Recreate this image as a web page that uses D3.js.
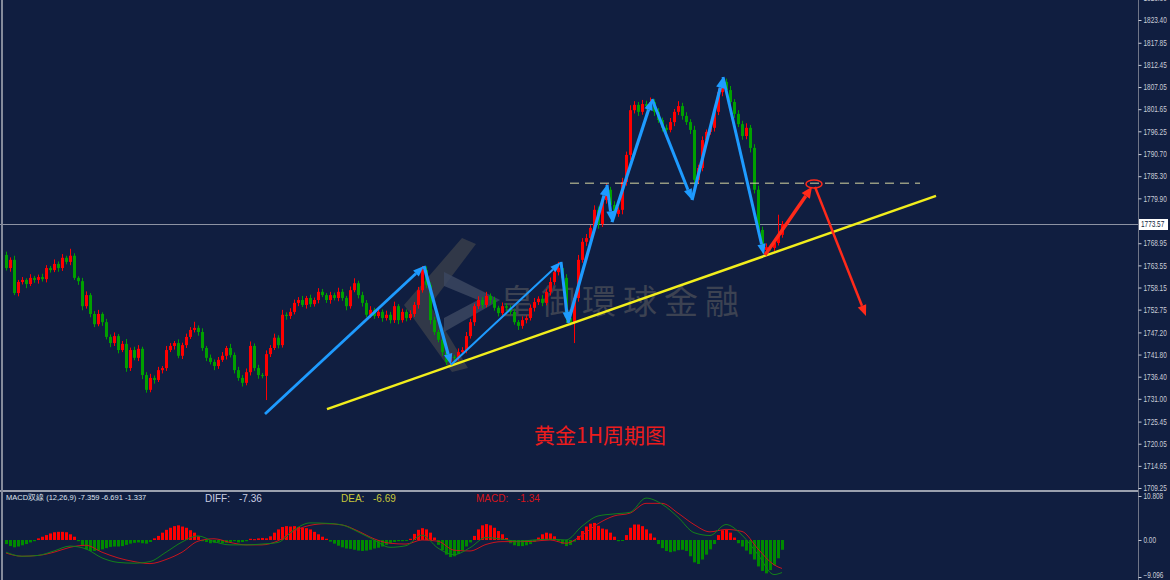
<!DOCTYPE html>
<html>
<head>
<meta charset="utf-8">
<script src="https://cdn.jsdelivr.net/npm/d3@7"></script>
<style>
  html, body { margin: 0; padding: 0; background: #101e40; overflow: hidden; }
</style>
</head>
<body>
<div id="chart"></div>
<script>
// ---- data ----
const firstOpen = 1766.1;
const closes = [
  1762.9,1764.9,1756.8,1759.5,1760.0,1759.0,1760.5,1760.0,1760.7,1760.2,
  1762.9,1762.4,1763.9,1762.9,1765.4,1764.4,1765.9,1760.5,1759.7,1753.6,
  1756.3,1751.7,1749.2,1751.7,1749.7,1746.1,1744.6,1746.3,1742.9,1744.4,
  1738.5,1742.9,1741.0,1743.2,1736.8,1733.2,1736.1,1735.6,1738.0,1738.5,
  1742.9,1743.9,1744.6,1741.5,1744.1,1746.1,1747.8,1748.3,1747.3,1743.4,
  1741.0,1740.0,1739.0,1740.5,1741.5,1743.4,1741.7,1738.0,1736.1,1734.9,
  1737.5,1743.9,1738.5,1736.8,1736.6,1741.9,1743.4,1745.9,1744.1,1751.5,
  1751.2,1752.2,1754.4,1755.1,1753.9,1755.6,1754.1,1755.1,1757.1,1756.3,
  1755.1,1756.3,1755.6,1757.1,1755.6,1753.6,1757.5,1759.2,1756.3,1754.4,
  1751.5,1752.7,1751.2,1752.2,1750.7,1751.5,1750.2,1753.6,1750.2,1752.2,
  1750.7,1751.7,1753.9,1757.5,1762.4,1758.8,1750.2,1747.3,1745.4,1742.4,
  1740.0,1741.2,1741.0,1742.4,1742.9,1746.3,1749.7,1753.6,1755.1,1753.9,
  1756.1,1755.1,1753.2,1751.9,1753.6,1753.2,1752.2,1749.7,1748.8,1750.2,
  1750.7,1753.2,1754.6,1755.4,1754.4,1757.1,1759.5,1761.9,1762.9,1760.5,
  1750.7,1749.7,1755.6,1764.9,1769.3,1770.2,1772.7,1777.1,1773.6,1779.5,
  1782.0,1778.3,1776.1,1777.1,1783.9,1790.5,1801.4,1802.7,1801.0,1802.9,
  1802.4,1803.4,1801.0,1799.0,1797.1,1796.6,1798.5,1801.0,1802.4,1800.0,
  1798.5,1796.6,1784.4,1787.3,1794.1,1796.1,1797.1,1801.0,1805.8,1808.3,
  1806.3,1803.4,1800.5,1798.0,1795.1,1797.1,1792.2,1782.0,1772.2,1767.3,
  1768.0,1767.8,1769.0,1771.0,1773.57
];
const upWick = [
  0.8,0.6,1.0,0.5,0.7,0.4,0.9,0.5,0.6,0.8, 0.7,0.5,1.1,0.6,0.9,0.5,1.7,0.6,0.4,0.8,
  0.9,0.5,0.7,1.0,0.4,0.8,0.6,0.9,0.5,0.7, 1.2,0.6,0.8,0.9,0.5,0.7,1.0,0.6,0.8,0.5,
  1.0,0.7,0.5,0.9,0.6,0.8,0.7,1.5,0.6,0.9, 0.5,0.8,0.6,0.7,0.9,0.5,1.0,0.6,0.8,0.7,
  0.9,1.1,0.6,0.8,0.5,0.9,0.7,1.0,0.6,1.2, 0.6,0.9,0.8,0.7,1.0,0.5,0.8,0.6,0.9,0.7,
  0.5,0.8,0.6,1.0,0.7,0.5,0.9,1.2,0.6,0.8, 0.7,0.9,0.5,0.8,0.6,1.0,0.7,1.1,0.5,0.8,
  0.6,0.9,0.7,0.8,1.0,0.9,0.6,0.8,0.5,0.7, 0.6,0.8,0.5,0.9,0.7,1.0,0.8,0.6,0.9,0.7,
  1.0,0.6,0.8,0.5,0.9,0.7,0.6,0.8,0.5,0.9, 0.7,0.8,1.0,0.6,0.9,0.7,1.1,0.8,1.5,0.6,
  0.9,0.7,0.8,1.2,0.9,1.0,0.7,1.1,0.8,0.9, 1.5,0.7,0.9,0.6,1.0,0.8,1.2,0.9,0.7,1.0,
  0.8,1.1,0.7,0.9,0.6,0.8,1.0,0.7,1.2,0.8, 0.9,0.7,1.0,0.8,0.9,0.6,0.8,1.0,0.9,1.2,
  0.8,1.0,0.7,0.9,0.8,1.1,0.7,0.9,1.0,0.8, 0.9,0.7,1.0,4.9,0.8
];
const downWick = [
  0.6,0.9,0.5,0.8,0.6,1.0,0.5,0.7,0.9,0.6, 0.8,0.6,0.5,0.9,0.7,0.6,0.8,0.5,0.9,1.0,
  0.6,0.8,0.7,0.5,0.9,0.6,1.0,0.7,0.8,0.5, 0.9,0.7,0.6,0.8,1.0,0.7,0.6,0.9,0.5,0.8,
  0.7,0.5,0.9,0.6,0.8,0.7,0.5,0.6,0.9,0.7, 0.8,0.6,1.0,0.7,0.5,0.9,0.6,0.8,0.7,0.9,
  0.6,0.8,0.7,0.9,0.6,5.9,0.7,0.5,0.8,0.6, 0.9,0.7,0.6,0.8,0.5,0.9,0.7,0.6,0.8,0.5,
  0.7,0.9,0.6,0.8,0.7,1.0,0.6,0.5,0.8,0.9, 0.6,0.8,0.7,0.5,0.9,0.6,0.8,0.7,1.0,0.6,
  0.8,0.5,0.7,0.9,0.6,0.8,1.0,0.7,0.6,0.9, 0.8,0.6,0.9,0.7,0.5,0.8,0.6,0.9,0.7,0.8,
  0.6,0.9,0.7,0.8,0.5,0.9,0.7,0.6,1.0,0.7, 0.8,0.6,0.9,0.7,0.8,0.6,0.9,0.7,0.8,1.0,
  1.2,0.8,5.1,0.9,0.7,1.0,0.8,0.9,1.1,0.7, 0.9,1.0,0.8,0.7,1.1,0.9,1.2,0.8,1.0,0.7,
  0.9,0.8,1.0,0.7,0.9,0.8,0.6,1.0,0.8,0.9, 0.7,1.0,3.7,0.9,0.8,1.0,0.7,0.9,0.8,1.0,
  0.9,0.8,1.0,0.7,0.9,0.8,1.1,0.9,1.2,0.8, 0.9,0.7,0.8,0.6,0.7
];

// MACD histogram, one bar per candle
const macdHist = [
  -1.0,-1.5,-1.8,-1.6,-1.3,-1.0,-0.6,-0.3,
  0.4,0.8,1.2,1.6,1.9,2.0,2.0,1.9,1.4,0.8,-0.3,
  -1.5,-2.3,-2.7,-2.7,-2.6,-2.3,-2.0,-1.7,-1.6,-1.6,-1.5,-1.2,-0.9,-0.7,
  -0.6,-0.8,-0.9,-0.5,
  0.4,1.0,1.8,2.5,3.0,3.4,3.6,3.3,3.0,2.4,1.8,0.9,-0.3,
  -0.5,-0.8,-0.7,-0.6,-0.8,-0.7,-0.5,-0.3,-0.6,-0.5,-0.3,
  0.3,0.2,0.4,0.5,0.4,
  0.9,1.8,2.6,3.2,3.4,3.3,3.4,3.2,3.0,2.9,2.6,
  2.0,1.4,0.8,0.3,
  -0.4,-0.9,-1.4,-1.8,-2.1,-2.2,-2.4,-2.6,-2.7,-2.6,-2.4,-2.1,-1.9,-1.6,-1.2,-0.8,-0.5,-0.3,
  -0.3,-0.2,0.3,
  1.5,2.5,2.9,2.6,1.8,0.6,
  -1.2,-2.5,-3.6,-4.2,-4.0,-3.4,-2.6,-1.6,-0.6,
  1.0,2.6,3.6,3.9,3.6,3.0,2.2,1.4,0.5,
  -0.8,-1.3,-1.5,-1.5,-1.3,-1.0,-0.5,
  0.6,1.4,1.8,1.6,0.9,
  -0.3,-1.0,-1.5,-1.2,-0.4,
  1.0,2.2,3.3,4.0,4.2,3.5,
  2.8,2.6,1.8,0.8,
  -0.3,-0.2,
  1.2,3.0,3.8,3.8,3.4,2.6,1.6,0.6,
  -1.0,-2.0,-2.7,-3.0,-2.8,-2.5,-2.4,-2.7,-4.0,-5.5,-5.9,-4.8,-3.6,-2.3,-1.0,
  1.2,2.4,2.5,1.8,0.6,
  -0.8,-1.6,-2.6,-3.5,-4.8,-6.5,-7.6,-8.2,-7.4,-6.2,-4.5,-2.4
];
// DIFF / DEA sampled every 4th candle (last point = last candle)
const lineIdx = [0,4,8,12,16,20,24,28,32,36,40,44,48,52,56,60,64,68,72,76,80,84,88,92,96,
  100,104,108,112,116,120,124,128,132,136,140,144,148,152,156,160,164,168,172,176,180,184,188,192,194];
const diffVals = [-3.0,-4.0,-3.8,-2.7,-1.5,-2.2,-4.4,-5.5,-5.7,-5.3,-3.0,-0.5,1.0,-0.4,-1.2,-1.2,-1.0,-0.6,2.5,4.2,
  4.1,3.7,2.0,0.0,-1.8,-1.4,1.2,-2.0,-3.6,-1.9,0.6,0.2,-0.3,0.0,0.2,0.0,3.4,5.9,6.4,6.8,
  10.3,8.8,5.6,1.8,1.1,3.8,1.2,-3.6,-8.5,-8.0];
const deaVals = [-3.2,-4.0,-3.8,-3.0,-1.8,-1.3,-3.0,-4.4,-5.3,-5.8,-4.8,-3.0,-0.3,0.3,-0.6,-1.2,-1.2,-0.2,2.2,3.6,
  4.0,3.7,2.2,0.3,-0.8,-1.0,0.0,-0.3,-2.5,-2.7,-1.1,-0.4,-0.4,-0.3,0.0,-0.8,1.2,4.0,5.9,6.6,
  9.0,9.0,6.6,3.8,2.0,2.6,2.1,-2.2,-6.1,-7.0];

// 1774.50 sits under the last-price tag, so it is left out
const priceTicks = [1828.80,1823.40,1817.85,1812.45,1807.05,1801.65,1796.25,1790.70,1785.30,1779.90,
  1768.95,1763.55,1758.15,1752.75,1747.20,1741.80,1736.40,1731.00,1725.45,1720.05,1714.65,1709.25];
const macdTicks = [10.808, 0, -9.096];
const lastPrice = 1773.57;

// drawn analysis (candle index, price)
const blueZigzag = [[64.75,1727.3],[104.5,1763.4],[111.25,1739.3],[138.75,1764.4],[140.5,1749.5],[150.25,1783.2],
  [151.5,1774.1],[161.5,1804.1],[171.5,1779.5],[179.25,1809.5],[189.5,1766.1]];
const blueWidths = [2.8,3.2,2,3,3.2,3,3.2,3,3.2,3];
const redPath = [[189.75,1766.1],[201.5,1782.7],[202.25,1782.7],[215,1751.2]];
const trendLine = [[80.25,1728.5],[232.5,1780.5]];
const resistance = {from: 141, to: 228.5, price: 1783.6};

// ---- layout ----
const W = 1170, H = 580, axisX = 1138, sepY = 490;
const bg = '#101e40';
const axisFont = '"Liberation Sans", Arial, sans-serif';
const squeeze = 0.76;   // axis labels are drawn narrow, like the terminal's bitmap font

const svg = d3.select('#chart').append('svg')
  .attr('width', W).attr('height', H).style('display', 'block');
svg.append('rect').attr('width', W).attr('height', H).attr('fill', bg);

const x = d3.scaleLinear().domain([0, closes.length - 1]).range([6, 782]);
const y = d3.scaleLinear().domain([1709.25, 1823.40]).range([488, 20]);
const ym = d3.scaleLinear().domain([-9.096, 10.808]).range([577, 496]);

svg.append('clipPath').attr('id', 'mainClip')
  .append('rect').attr('x', 0).attr('y', 0).attr('width', axisX).attr('height', sepY);
const main = svg.append('g').attr('clip-path', 'url(#mainClip)');

// watermark logo + name
const wm = main.append('g');
wm.append('path')
  .attr('d', 'M462,238 L476,244 L430,305 L468,368 L452,372 L404,305 Z')
  .attr('fill', '#3a3e4a').attr('opacity', 0.8);
wm.append('path')
  .attr('d', 'M444,272 L500,300 L444,332 L444,318 L478,300 L444,286 Z')
  .attr('fill', '#3b4660').attr('opacity', 0.85);
wm.append('text')
  .attr('x', 500).attr('y', 314)
  .attr('font-family', '"Noto Sans CJK TC", "Noto Sans CJK SC", sans-serif')
  .attr('font-size', 34).attr('letter-spacing', 7)
  .attr('fill', '#3c4252')
  .text('皇御環球金融');

// current price line
main.append('line')
  .attr('x1', 0).attr('x2', axisX)
  .attr('y1', Math.round(y(lastPrice)) + 0.5).attr('y2', Math.round(y(lastPrice)) + 0.5)
  .attr('stroke', '#8d93a3').attr('stroke-width', 1);

// candles
const candles = closes.map((c, i) => {
  const o = i ? closes[i - 1] : firstOpen;
  return { i, o, c, h: Math.max(o, c) + upWick[i], l: Math.min(o, c) - downWick[i] };
});
const upCol = '#ff0000', dnCol = '#00a000';
const cg = main.append('g');
cg.selectAll('line').data(candles).enter().append('line')
  .attr('x1', d => x(d.i) + 0.5).attr('x2', d => x(d.i) + 0.5)
  .attr('y1', d => y(d.h)).attr('y2', d => y(d.l))
  .attr('stroke', d => d.c >= d.o ? upCol : dnCol).attr('stroke-width', 1);
cg.selectAll('rect').data(candles).enter().append('rect')
  .attr('x', d => x(d.i) - 1).attr('width', 3)
  .attr('y', d => y(Math.max(d.o, d.c)))
  .attr('height', d => Math.max(1, Math.abs(y(d.o) - y(d.c))))
  .attr('fill', d => d.c >= d.o ? upCol : dnCol);

// resistance dashed line
main.append('line')
  .attr('x1', x(resistance.from)).attr('x2', x(resistance.to))
  .attr('y1', y(resistance.price)).attr('y2', y(resistance.price))
  .attr('stroke', '#d6d6a0').attr('stroke-width', 1).attr('stroke-dasharray', '9,6');

// yellow trend line
main.append('line')
  .attr('x1', x(trendLine[0][0])).attr('y1', y(trendLine[0][1]))
  .attr('x2', x(trendLine[1][0])).attr('y2', y(trendLine[1][1]))
  .attr('stroke', '#f2ee1c').attr('stroke-width', 2.5);

function arrow(g, a, b, color, w, headLen, headW) {
  const p0 = [x(a[0]), y(a[1])], p1 = [x(b[0]), y(b[1])];
  const dx = p1[0] - p0[0], dy = p1[1] - p0[1], L = Math.hypot(dx, dy);
  const ux = dx / L, uy = dy / L;
  const bx = p1[0] - ux * headLen, by = p1[1] - uy * headLen;
  g.append('line')
    .attr('x1', p0[0]).attr('y1', p0[1]).attr('x2', bx).attr('y2', by)
    .attr('stroke', color).attr('stroke-width', w);
  g.append('path')
    .attr('d', `M${p1[0]},${p1[1]}L${bx - uy * headW},${by + ux * headW}L${bx + uy * headW},${by - ux * headW}Z`)
    .attr('fill', color);
}

const ann = main.append('g');
const blue = '#1e9bff';
for (let k = 0; k < blueZigzag.length - 1; k++) {
  arrow(ann, blueZigzag[k], blueZigzag[k + 1], blue, blueWidths[k], 11, 3 + blueWidths[k] * 0.4);
}
const red = '#ff2a1a';
arrow(ann, redPath[0], redPath[1], red, 3.5, 11, 5);
arrow(ann, redPath[2], redPath[3], red, 2.5, 11, 4.5);
ann.append('ellipse')
  .attr('cx', x(202)).attr('cy', y(1783.4)).attr('rx', 8).attr('ry', 4)
  .attr('fill', 'none').attr('stroke', red).attr('stroke-width', 1.5);

// title
svg.append('text')
  .attr('x', 600).attr('y', 443).attr('text-anchor', 'middle')
  .attr('font-family', '"Noto Sans CJK SC", sans-serif').attr('font-size', 21)
  .attr('fill', '#ec1c1c')
  .text('黄金1H周期图');

// ---- MACD panel ----
const mg = svg.append('g');
mg.selectAll('rect').data(macdHist).enter().append('rect')
  .attr('x', (d, i) => x(i) - 1).attr('width', 3)
  .attr('y', d => Math.min(ym(0), ym(d)))
  .attr('height', d => Math.max(1, Math.abs(ym(d) - ym(0))))
  .attr('fill', d => d >= 0 ? '#ff0000' : '#008a00');

const macdLine = d3.line().x(d => x(d[0])).y(d => ym(d[1])).curve(d3.curveMonotoneX);
mg.append('path').datum(lineIdx.map((k, j) => [k, deaVals[j]]))
  .attr('d', macdLine).attr('fill', 'none').attr('stroke', '#c8141e').attr('stroke-width', 1);
mg.append('path').datum(lineIdx.map((k, j) => [k, diffVals[j]]))
  .attr('d', macdLine).attr('fill', 'none').attr('stroke', '#13801a').attr('stroke-width', 1);

mg.append('text').attr('x', 6).attr('y', 500)
  .attr('font-family', axisFont).attr('font-size', 7.5)
  .attr('fill', '#dfe3ee')
  .text('MACD双線 (12,26,9) -7.359 -6.691 -1.337');
const hdr = [
  { t: 'DIFF:', x: 205, c: '#c9cde0' }, { t: '-7.36', x: 239, c: '#c9cde0' },
  { t: 'DEA:', x: 341, c: '#c8c83a' }, { t: '-6.69', x: 373, c: '#c8c83a' },
  { t: 'MACD:', x: 476, c: '#d8141a' }, { t: '-1.34', x: 517, c: '#d8141a' }
];
mg.selectAll('text.hdr').data(hdr).enter().append('text').attr('class', 'hdr')
  .attr('x', d => d.x).attr('y', 502)
  .attr('font-family', axisFont).attr('font-size', 10)
  .attr('fill', d => d.c).text(d => d.t);

// ---- frame ----
svg.append('rect').attr('x', 0).attr('y', sepY).attr('width', axisX).attr('height', 2).attr('fill', '#9aa0ae');
svg.append('rect').attr('x', 1).attr('y', 0).attr('width', 2).attr('height', H).attr('fill', '#858b9b');
svg.append('line').attr('x1', axisX + 0.5).attr('x2', axisX + 0.5).attr('y1', 0).attr('y2', H)
  .attr('stroke', '#6f7587').attr('stroke-width', 1);

function styleAxis(g) {
  g.select('.domain').remove();
  g.selectAll('line').attr('stroke', '#c9cdd8');
  g.selectAll('text')
    .attr('fill', '#c9cdd8').attr('font-size', 8.5).attr('font-family', axisFont)
    .attr('x', 5 / squeeze)
    .attr('transform', `scale(${squeeze},1)`);
}

// price axis
const ax = svg.append('g').attr('transform', `translate(${axisX + 0.5},0)`)
  .call(d3.axisRight(y).tickValues(priceTicks).tickSize(3).tickPadding(2).tickFormat(d3.format('.2f')));
styleAxis(ax);

// current price tag
const lp = svg.append('g').attr('transform', `translate(${axisX + 1},${Math.round(y(lastPrice)) - 5})`);
lp.append('rect').attr('width', 29).attr('height', 11).attr('fill', '#ffffff');
lp.append('text').attr('x', 2 / squeeze).attr('y', 8.5)
  .attr('transform', `scale(${squeeze},1)`)
  .attr('font-family', axisFont).attr('font-size', 8.5)
  .attr('fill', '#101e40').text(d3.format('.2f')(lastPrice));

// MACD axis
const mx = svg.append('g').attr('transform', `translate(${axisX + 0.5},0)`)
  .call(d3.axisRight(ym).tickValues(macdTicks).tickSize(3).tickPadding(2)
    .tickFormat(d => d === 0 ? '0.00' : d3.format('.3f')(d)));
styleAxis(mx);
mx.selectAll('.tick').filter(d => d < 0).select('text').attr('dy', '0.05em');
</script>
</body>
</html>
